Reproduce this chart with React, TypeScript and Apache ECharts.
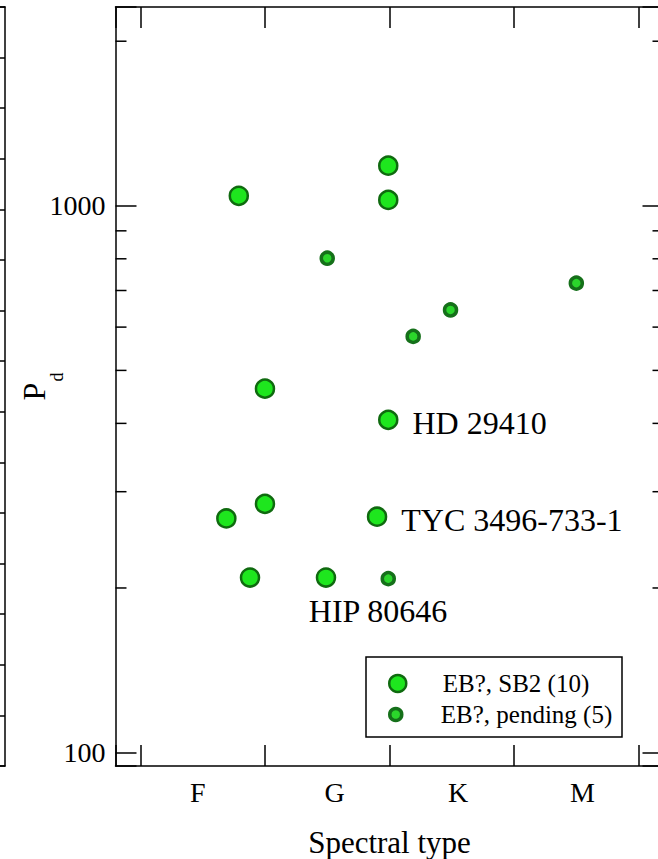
import React, { useEffect, useRef } from "react";
import * as echarts from "echarts";

// ---- data ----
const sb2Name = "EB?, SB2 (10)";
const pendName = "EB?, pending (5)";
// spectral type as number: F0 = 0, G0 = 10, K0 = 20, M0 = 30
const sb2Type = [7.9, 19.9, 19.9, 10, 19.9, 6.9, 10, 19, 8.8, 14.9];
const sb2Period = [1043, 1184, 1025, 463, 406, 268, 285, 270, 209, 209];
const pendType = [15, 24.9, 21.9, 35, 19.9];
const pendPeriod = [802, 645, 577, 722, 208];
const annotNames = ["HD 29410", "TYC 3496-733-1", "HIP 80646"];
const annotIndex = [4, 7, 9];
const xLabelNames = ["F", "G", "K", "M"];
const xLabelPos = [4.6, 15.6, 25.5, 35.5];
const xMin = -2;
const xMax = 42;
const yMin = 94.5;
const yMax = 2310;
const yMajorTicks = [100, 1000];
const yMinorTicks = [200, 300, 400, 500, 600, 700, 800, 900, 2000];

const FONT = '"Liberation Serif", "Times New Roman", "DejaVu Serif", serif';

export default function App() {
  const ref = useRef<HTMLDivElement>(null);

  useEffect(() => {
    if (!ref.current) return;
    const chart = echarts.init(ref.current, null, { renderer: "svg" });

    const lineStyle = { color: "#000", width: 1.5 };
    const axisLine = { onZero: false, lineStyle };

    const sb2Data = sb2Type.map((x, i) => {
      const k = annotIndex.indexOf(i);
      const item: any = { value: [x, sb2Period[i]] };
      if (k >= 0) {
        const isHip = annotNames[k] === "HIP 80646";
        item.label = {
          show: true,
          formatter: annotNames[k],
          position: isHip ? "bottom" : "right",
          distance: isHip ? 7 : 14,
          offset: isHip ? [52, 0] : [0, 3],
          color: "#000",
          fontFamily: FONT,
          fontSize: 32,
        };
      }
      return item;
    });

    const option: any = {
      animation: false,
      backgroundColor: "#fff",
      textStyle: { fontFamily: FONT },
      grid: [
        { left: 115.5, top: 7, width: 548, height: 759, outerBoundsMode: "none", containLabel: false },
        { left: -200, top: 7, width: 205, height: 759, outerBoundsMode: "none", containLabel: false },
      ],
      xAxis: [
        {
          type: "value",
          gridIndex: 0,
          position: "bottom",
          min: xMin,
          max: xMax,
          splitLine: { show: false },
          axisLine,
          axisTick: { inside: true, length: 21, lineStyle },
          axisLabel: {
            customValues: xLabelPos,
            formatter: (v: number) => {
              const k = xLabelPos.findIndex((p) => Math.abs(p - v) < 1e-6);
              return k >= 0 ? xLabelNames[k] : "";
            },
            color: "#000",
            fontFamily: FONT,
            fontSize: 28,
            margin: 12,
          },
          name: "Spectral type",
          nameLocation: "middle",
          nameGap: 61,
          nameMoveOverlap: false,
          nameTextStyle: { color: "#000", fontFamily: FONT, fontSize: 31 },
        },
        {
          type: "value",
          gridIndex: 0,
          position: "top",
          min: xMin,
          max: xMax,
          splitLine: { show: false },
          axisLine,
          axisTick: { inside: true, length: 21, lineStyle },
          axisLabel: { show: false },
        },
        {
          type: "value",
          gridIndex: 1,
          position: "bottom",
          min: 0,
          max: 1,
          splitLine: { show: false },
          axisLine,
          axisTick: { show: false },
          axisLabel: { show: false },
        },
        {
          type: "value",
          gridIndex: 1,
          position: "top",
          min: 0,
          max: 1,
          splitLine: { show: false },
          axisLine,
          axisTick: { show: false },
          axisLabel: { show: false },
        },
      ],
      yAxis: [
        {
          type: "log",
          logBase: 10,
          gridIndex: 0,
          position: "left",
          min: yMin,
          max: yMax,
          splitLine: { show: false },
          axisLine,
          axisTick: { inside: true, length: 21, lineStyle },
          axisLabel: {
            formatter: (v: number) => {
              const hit = yMajorTicks.find((t) => Math.abs(t - v) < 1e-6 * t);
              return hit ? String(hit) : "";
            },
            color: "#000",
            fontFamily: FONT,
            fontSize: 28,
            margin: 10,
          },
          name: "{p|P}{d|d}",
          nameLocation: "middle",
          nameRotate: 90,
          nameGap: 62,
          nameMoveOverlap: false,
          nameTextStyle: {
            color: "#000",
            rich: {
              p: { fontFamily: FONT, fontSize: 32, lineHeight: 36, color: "#000", verticalAlign: "top" },
              d: {
                fontFamily: FONT,
                fontSize: 18,
                lineHeight: 16,
                color: "#000",
                verticalAlign: "top",
                padding: [30, 0, 0, 1],
              },
            },
          },
        },
        {
          type: "log",
          logBase: 10,
          gridIndex: 0,
          position: "right",
          min: yMin,
          max: yMax,
          splitLine: { show: false },
          axisLine,
          axisTick: { inside: true, length: 21, lineStyle },
          axisLabel: { show: false },
        },
        {
          type: "value",
          gridIndex: 1,
          position: "right",
          min: 0,
          max: 15,
          interval: 1,
          splitLine: { show: false },
          axisLine,
          axisTick: { inside: true, length: 6, lineStyle },
          axisLabel: { show: false },
        },
      ],
      legend: [
        {
          data: [sb2Name],
          left: 388,
          top: 671,
          padding: 0,
          orient: "vertical",
          itemWidth: 80,
          itemHeight: 17,
          selectedMode: false,
          itemStyle: { color: "#1ee61e", borderColor: "#0f6a0f", borderWidth: 2.5 },
          textStyle: { color: "#000", fontFamily: FONT, fontSize: 25, lineHeight: 22 },
        },
        {
          data: [pendName],
          left: 388,
          top: 702,
          padding: 0,
          orient: "vertical",
          itemWidth: 80,
          itemHeight: 12,
          selectedMode: false,
          itemStyle: { color: "#2bd62b", borderColor: "#15701a", borderWidth: 3.5 },
          textStyle: { color: "#000", fontFamily: FONT, fontSize: 25, lineHeight: 22 },
        },
      ],
      graphic: [
        {
          type: "rect",
          shape: { x: 366, y: 657, width: 256, height: 80 },
          style: { fill: "#fff", stroke: "#000", lineWidth: 1.5 },
          z: 1,
          silent: true,
        },
      ],
      series: [
        {
          type: "custom",
          name: "minor ticks",
          xAxisIndex: 0,
          yAxisIndex: 0,
          data: yMinorTicks.map((v) => [xMin, v]),
          renderItem: (params: any, api: any) => {
            const y = api.coord([api.value(0), api.value(1)])[1];
            const cs = params.coordSys;
            return {
              type: "group",
              children: [
                { type: "line", shape: { x1: cs.x, y1: y, x2: cs.x + 11, y2: y }, style: { stroke: "#000", lineWidth: 1.5 } },
                { type: "line", shape: { x1: cs.x + cs.width - 11, y1: y, x2: cs.x + cs.width, y2: y }, style: { stroke: "#000", lineWidth: 1.5 } },
              ],
            };
          },
          silent: true,
          z: 3,
        },
        {
          type: "scatter",
          name: sb2Name,
          xAxisIndex: 0,
          yAxisIndex: 0,
          symbol: "circle",
          symbolSize: 18,
          itemStyle: { color: "#1ee61e", borderColor: "#0f6a0f", borderWidth: 2.5, opacity: 1 },
          data: sb2Data,
          z: 5,
        },
        {
          type: "scatter",
          name: pendName,
          xAxisIndex: 0,
          yAxisIndex: 0,
          symbol: "circle",
          symbolSize: 12,
          itemStyle: { color: "#2bd62b", borderColor: "#15701a", borderWidth: 3.5, opacity: 1 },
          data: pendType.map((x, i) => [x, pendPeriod[i]]),
          z: 5,
        },
      ],
    };

    chart.setOption(option);
    return () => chart.dispose();
  }, []);

  return (
    <div style={{ position: "fixed", left: 0, top: 0, width: 658, height: 859, overflow: "hidden", background: "#fff" }}>
      <div ref={ref} style={{ width: 680, height: 859 }} />
    </div>
  );
}
